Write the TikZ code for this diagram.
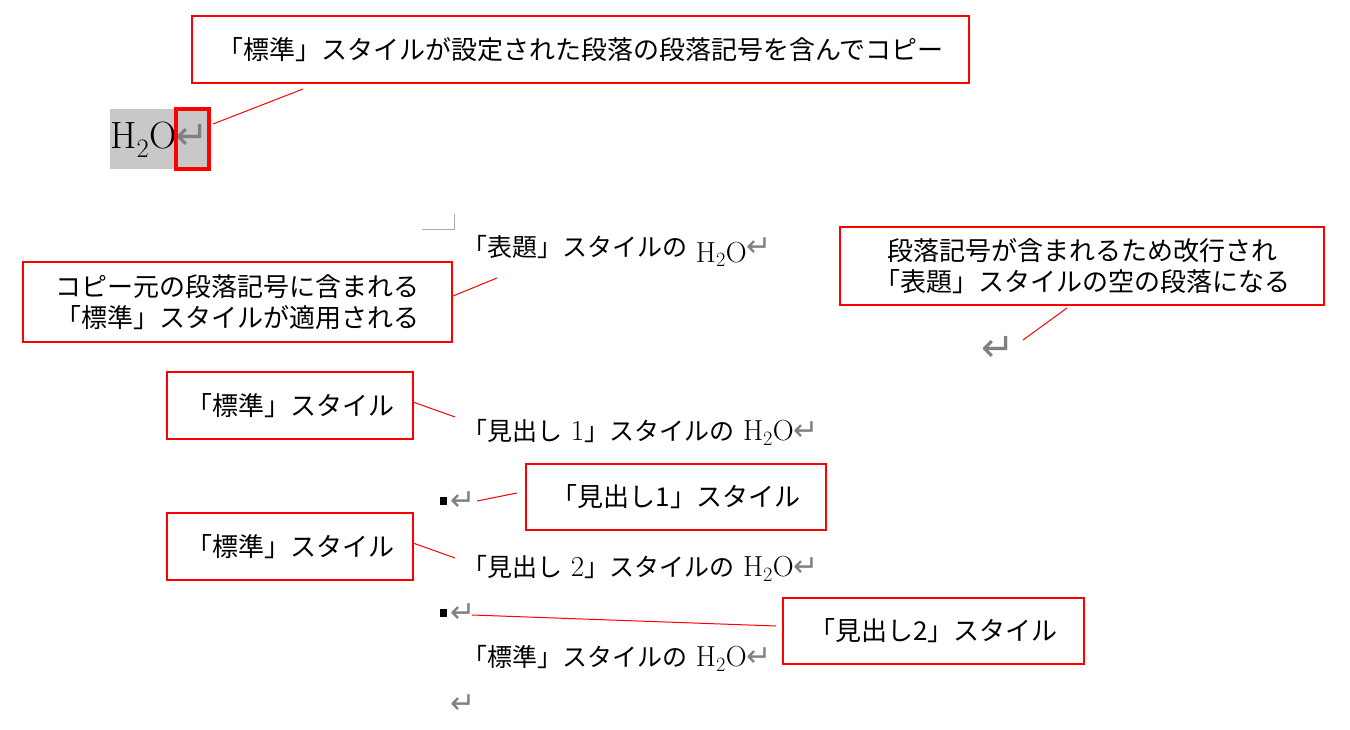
\documentclass[tikz,border=0pt]{standalone}
\usepackage{fontspec}
\newfontfamily\jpfont{Noto Sans CJK JP}
\newfontfamily\symfont{DejaVu Sans}
\definecolor{callred}{RGB}{255,0,0}
\definecolor{markgray}{RGB}{128,128,128}
\definecolor{selgray}{RGB}{200,200,200}
\definecolor{cornergray}{RGB}{170,170,170}
\newcommand\jtxt[1]{{\fontsize{25}{30}\selectfont\jpfont #1}}
\newcommand\retsym{{\color{markgray}\fontsize{30}{30}\selectfont\symfont ↵}}
\tikzset{
  callout/.style={draw=callred, line width=1.3pt, inner sep=0pt, align=center,
    font=\fontsize{26}{31}\selectfont\jpfont},
  leader/.style={draw=callred, line width=1pt},
  docline/.style={anchor=west, inner sep=0pt, font=\fontsize{29}{30}\selectfont},
  retmark/.style={text=markgray, inner sep=0pt, font=\fontsize{30}{30}\selectfont\symfont},
  bulletsq/.style={fill=black, minimum size=7.5pt, inner sep=0pt},
}
\begin{document}
\begin{tikzpicture}[x=1pt,y=-1pt]
\useasboundingbox (0,0) rectangle (1350,730);

% ---- top: copied paragraph ----
\node[callout, minimum width=777pt, minimum height=67pt] (c1) at (580.5,49.5)
  {「標準」スタイルが設定された段落の段落記号を含んでコピー};
\node[fill=selgray, minimum width=101pt, minimum height=60pt, inner sep=0pt] (sel) at (160.5,139) {};
\node[anchor=west, inner sep=0pt, font=\fontsize{38}{40}\selectfont] (h2o) at (110,140) {H\textsubscript{2}O};
\node[retmark, font=\fontsize{40}{40}\selectfont\symfont] (r0) at (192,137) {↵};
\node[draw=callred, line width=4pt, minimum width=33pt, minimum height=60pt, inner sep=0pt] (selbox) at (192.5,139) {};
\coordinate (c1a) at (303,89);
\coordinate (selboxa) at (213,124);
\draw[leader] (selboxa) -- (c1a);

% ---- pasted result ----
\draw[cornergray, line width=0.8pt] (422,229) -- (454,229) -- (454,214);

\node[docline] (l1) at (462,251) {\jtxt{「表題」スタイルの} \raisebox{-6pt}{H\textsubscript{2}O}\retsym};
\node[docline] (l2) at (462,432) {\jtxt{「見出し} 1\jtxt{」スタイルの} H\textsubscript{2}O\retsym};
\node[bulletsq] (b1) at (443.5,501) {};
\node[retmark] (r1) at (463.5,501) {↵};
\node[docline] (l3) at (462,568) {\jtxt{「見出し} 2\jtxt{」スタイルの} H\textsubscript{2}O\retsym};
\node[bulletsq] (b2) at (443.5,613) {};
\node[retmark] (r2) at (463.5,613) {↵};
\node[docline] (l4) at (462,658) {\jtxt{「標準」スタイルの} H\textsubscript{2}O\retsym};
\node[retmark] (r3) at (463.5,704) {↵};
\node[retmark, font=\fontsize{40}{40}\selectfont\symfont] (r4) at (998,349) {↵};

% ---- callouts ----
\node[callout, minimum width=429pt, minimum height=80pt] (c2) at (237.5,302)
  {コピー元の段落記号に含まれる\\「標準」スタイルが適用される};
\node[callout, minimum width=484pt, minimum height=78pt] (c5) at (1082,266)
  {段落記号が含まれるため改行され\\「表題」スタイルの空の段落になる};
\node[callout, minimum width=246pt, minimum height=67pt] (c3) at (290,405.5) {「標準」スタイル};
\node[callout, minimum width=300pt, minimum height=66pt] (c4) at (676,497) {「見出し1」スタイル};
\node[callout, minimum width=246pt, minimum height=67pt] (c6) at (290,546.5) {「標準」スタイル};
\node[callout, minimum width=301pt, minimum height=66pt] (c7) at (933.5,631) {「見出し2」スタイル};

% ---- leaders ----
\coordinate (c2a) at (453,296);   \coordinate (l1a) at (497,278);
\draw[leader] (c2a) -- (l1a);
\coordinate (c5a) at (1067,308);  \coordinate (r4a) at (1023,340);
\draw[leader] (c5a) -- (r4a);
\coordinate (c3a) at (413,402);   \coordinate (l2a) at (455,417);
\draw[leader] (c3a) -- (l2a);
\coordinate (r1a) at (477,501);   \coordinate (c4a) at (517,493);
\draw[leader] (r1a) -- (c4a);
\coordinate (c6a) at (413,543);   \coordinate (l3a) at (455,558);
\draw[leader] (c6a) -- (l3a);
\coordinate (r2a) at (472,615);   \coordinate (c7a) at (776,626);
\draw[leader] (r2a) -- (c7a);
\end{tikzpicture}
\end{document}
